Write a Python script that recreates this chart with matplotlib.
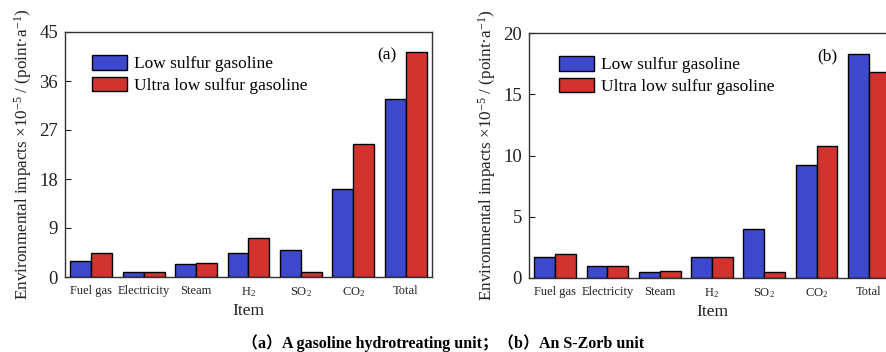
import matplotlib
matplotlib.use("Agg")
import matplotlib.pyplot as plt
import numpy as np

items = ["Fuel gas", "Electricity", "Steam", "H$_2$", "SO$_2$", "CO$_2$", "Total"]
series_names = ["Low sulfur gasoline", "Ultra low sulfur gasoline"]
a_low = [3.0, 1.0, 2.3, 4.5, 5.0, 16.1, 32.7]
a_ultra = [4.5, 1.0, 2.6, 7.2, 1.0, 24.5, 41.4]
b_low = [1.7, 1.0, 0.5, 1.7, 4.0, 9.25, 18.3]
b_ultra = [2.0, 1.0, 0.55, 1.7, 0.46, 10.8, 16.8]
a_ticks = [0, 9, 18, 27, 36, 45]
b_ticks = [0, 5, 10, 15, 20]
panel_tags = ["(a)", "(b)"]
caption = "（a）A gasoline hydrotreating unit；（b）An S-Zorb unit"
ylabel = "Environmental impacts ×10$^{-5}$ / (point·a$^{-1}$)"

plt.rcParams['font.family'] = ['Liberation Serif', 'DejaVu Serif']
plt.rcParams['mathtext.fontset'] = 'custom'
plt.rcParams['mathtext.rm'] = 'Liberation Serif'
plt.rcParams['mathtext.it'] = 'Liberation Serif:italic'

BLUE = "#3d48cc"
RED = "#d3332f"

fig = plt.figure(figsize=(8.87, 3.52), dpi=100)
axA = fig.add_axes([65/887, 75/352, 367/887, 245/352])
axB = fig.add_axes([529/887, 74/352, 366/887, 245/352])

x = np.arange(len(items))
w = 0.4
configs = [(axA, a_low, a_ultra, a_ticks, panel_tags[0], 0.877, 0.074),
           (axB, b_low, b_ultra, b_ticks, panel_tags[1], 0.814, 0.082)]
for ax, lo, ul, ticks, tag, tagx, legx in configs:
    ax.bar(x - w/2, lo, w, color=BLUE, edgecolor="black", linewidth=1.0, label=series_names[0])
    ax.bar(x + w/2, ul, w, color=RED, edgecolor="black", linewidth=1.0, label=series_names[1])
    ax.set_xlim(-0.5, 6.5)
    ax.set_ylim(ticks[0], ticks[-1])
    ax.set_yticks(ticks)
    ax.set_xticks(x)
    ax.set_xticklabels(items, fontsize=9, color="#222222")
    ax.tick_params(axis='x', length=0, pad=6)
    ax.tick_params(axis='y', direction='in', length=4, labelsize=13.5, pad=5, colors="#222222")
    for s in ax.spines.values():
        s.set_linewidth(1.0)
        s.set_color("#333333")
    ax.set_xlabel("Item", fontsize=12.5, labelpad=3, color="#222222")
    ax.set_ylabel(ylabel, fontsize=12.3, labelpad=4, color="#222222")
    ax.text(tagx, 0.905, tag, transform=ax.transAxes, fontsize=12.5, ha='center', va='center')
    ax.legend(loc='upper left', bbox_to_anchor=(legx, 0.905), frameon=False, fontsize=12.5,
              handlelength=2.0, handleheight=0.9, handletextpad=0.4, labelspacing=0.25,
              borderaxespad=0, borderpad=0)

fig.text(0.5, 0.025, caption, ha='center', va='center', fontsize=11.5, fontweight='bold',
         family=['Liberation Serif', 'Noto Sans CJK SC'])

fig.savefig("out.png", dpi=100)
